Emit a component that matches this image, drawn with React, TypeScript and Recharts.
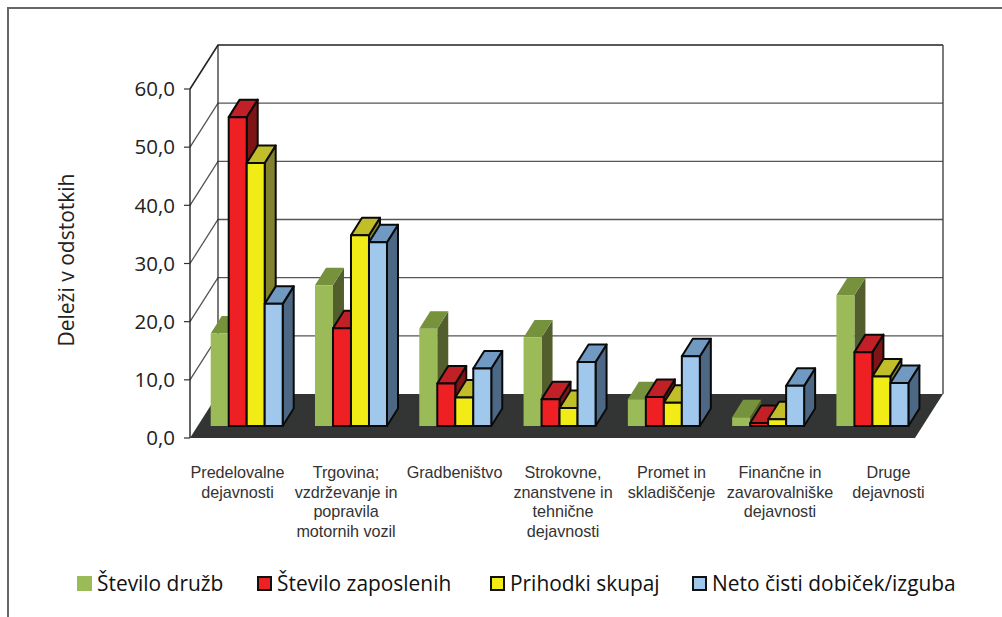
import { BarChart, Bar, XAxis, YAxis, CartesianGrid, Legend } from "recharts";

const categories = [
  "Predelovalne\ndejavnosti",
  "Trgovina;\nvzdrževanje in\npopravila\nmotornih vozil",
  "Gradbeništvo",
  "Strokovne,\nznanstvene in\ntehnične\ndejavnosti",
  "Promet in\nskladiščenje",
  "Finančne in\nzavarovalniške\ndejavnosti",
  "Druge\ndejavnosti",
];
const stevDruzb = [15.9, 24.2, 16.7, 15.2, 4.6, 1.5, 22.5];
const stevZaposlenih = [53.1, 16.8, 7.3, 4.6, 5.0, 0.5, 12.7];
const prihodki = [45.2, 32.8, 4.9, 3.1, 4.0, 1.15, 8.5];
const dobicek = [21.0, 31.6, 9.9, 11.0, 12.0, 6.9, 7.4];
const yTicks = [0, 10, 20, 30, 40, 50, 60];

const data = categories.map((name, i) => ({
  name,
  druzb: stevDruzb[i],
  zaposlenih: stevZaposlenih[i],
  prihodki: prihodki[i],
  dobicek: dobicek[i],
}));

const PLOT_TOP = 89;
const PLOT_H = 349;
const WALL_DX = 28;
const WALL_DY = 44;
const RIGHT_INSET = 5; // plot right edge vs. front edge of floor
const BAR_DX = 4.7; // bars sit deeper than the front plane
const BAR_DY = 12;
const DEPTH_X = 11;
const DEPTH_Y = 17.5;
const LEGEND_X = [77, 257, 490, 692];

function gridLine(props: any) {
  const { x1, x2, y1 } = props;
  const fx2 = x2 - RIGHT_INSET;
  const bx1 = x1 + WALL_DX;
  const bx2 = fx2 + WALL_DX;
  const by = y1 - WALL_DY;
  const isTop = Math.abs(y1 - PLOT_TOP) < 1;
  const isZero = Math.abs(y1 - PLOT_TOP - PLOT_H) < 1;
  if (isZero) {
    return (
      <polygon
        key="floor"
        points={`${x1},${y1} ${bx1},${by} ${bx2},${by} ${fx2},${y1}`}
        fill="#333534"
      />
    );
  }
  return (
    <g key={`line-${y1}`}>
      <polyline
        points={`${x1},${y1} ${bx1},${by} ${bx2},${by}`}
        fill="none"
        stroke={isTop ? "#222" : "#555"}
        strokeWidth={isTop ? 1.6 : 1.3}
      />
      {isTop && (
        <>
          <line x1={bx1} y1={by} x2={bx1} y2={by + PLOT_H} stroke="#222" strokeWidth={1.2} />
          <line x1={bx2} y1={by} x2={bx2} y2={by + PLOT_H} stroke="#444" strokeWidth={1.4} />
        </>
      )}
    </g>
  );
}

function makeBar(front: string, top: string, side: string, outline: string) {
  return function Bar3D(props: any) {
    const { x, y, width, height, index } = props;
    const l = x + BAR_DX;
    const r = l + width;
    const t = y - BAR_DY;
    const b = t + height;
    const line = outline === "none" ? {} : { stroke: outline, strokeWidth: 2, strokeLinejoin: "round" as const };
    return (
      <g key={index}>
        <polygon
          points={`${r},${t} ${r + DEPTH_X},${t - DEPTH_Y} ${r + DEPTH_X},${b - DEPTH_Y} ${r},${b}`}
          fill={side}
          {...line}
        />
        <polygon
          points={`${l},${t} ${l + DEPTH_X},${t - DEPTH_Y} ${r + DEPTH_X},${t - DEPTH_Y} ${r},${t}`}
          fill={top}
          {...line}
        />
        <rect x={l} y={t} width={width} height={height} fill={front} {...line} />
      </g>
    );
  };
}

function CategoryTick(props: any) {
  const { x, y, payload, index } = props;
  const lines = String(payload.value).split("\n");
  // labels are spread a little wider than the bar groups
  const cx = x - 4.6 + index * 4.2;
  return (
    <text
      x={cx}
      y={y}
      textAnchor="middle"
      fontFamily="Liberation Sans"
      fontSize={16.2}
      letterSpacing={-0.05}
      fill="#333"
    >
      {lines.map((l, i) => (
        <tspan key={i} x={cx} y={478 + i * 19.6}>
          {l}
        </tspan>
      ))}
    </text>
  );
}

function LegendRow(props: any) {
  const { payload } = props;
  return (
    <div style={{ position: "relative", height: 0 }}>
      {(payload || []).map((p: any, i: number) => (
        <div
          key={p.value}
          style={{
            position: "absolute",
            left: LEGEND_X[i],
            top: 0,
            whiteSpace: "nowrap",
            fontFamily: "Open Sans",
            fontSize: 20.9,
            lineHeight: "28px",
            color: "#111",
          }}
        >
          <span
            style={{
              position: "absolute",
              left: 0,
              top: 7,
              boxSizing: "border-box",
              width: 15,
              height: 15,
              background: p.color,
              border: i === 0 ? "none" : "2px solid #111",
            }}
          />
          <span style={{ marginLeft: 20 }}>{p.value}</span>
        </div>
      ))}
    </div>
  );
}

export default function App() {
  return (
    <div
      style={{
        position: "absolute",
        left: 0,
        top: 0,
        width: 1002,
        height: 617,
        overflow: "hidden",
        background: "#fff",
      }}
    >
      <div
        style={{
          position: "absolute",
          left: 7,
          top: 7,
          width: 995,
          height: 610,
          borderTop: "2px solid #666",
          borderLeft: "2px solid #666",
        }}
      />
      <BarChart
        width={1002}
        height={617}
        data={data}
        barSize={18}
        barGap={0}
        margin={{ top: PLOT_TOP, right: 82, bottom: 0, left: 0 }}
      >
        <CartesianGrid vertical={false} horizontal={gridLine} />
        <XAxis
          dataKey="name"
          height={179}
          interval={0}
          axisLine={false}
          tickLine={false}
          tick={CategoryTick}
        />
        <YAxis
          width={190}
          domain={[0, 60]}
          ticks={yTicks}
          tickFormatter={(v: number) => v.toFixed(1).replace(".", ",")}
          tick={{ fontFamily: "Open Sans", fontSize: 20.5, fill: "#222" }}
          tickSize={6}
          tickMargin={9}
          axisLine={{ stroke: "#111", strokeWidth: 1.3 }}
          tickLine={{ stroke: "#333", strokeWidth: 1.2 }}
          label={{
            value: "Deleži v odstotkih",
            angle: -90,
            position: "insideLeft",
            dx: 62,
            dy: 83,
            style: { fontFamily: "Open Sans", fontSize: 21, fill: "#222" },
          }}
        />
        <Legend
          content={LegendRow}
          itemSorter={null}
          wrapperStyle={{ position: "absolute", left: 0, top: 569, width: 1002, height: 0 }}
        />
        <Bar
          dataKey="druzb"
          name="Število družb"
          fill="#9BBB59"
          isAnimationActive={false}
          shape={makeBar("#9BBB59", "#76923C", "#525E2B", "none")}
        />
        <Bar
          dataKey="zaposlenih"
          name="Število zaposlenih"
          fill="#EE2024"
          isAnimationActive={false}
          shape={makeBar("#EE2024", "#C12026", "#7F1416", "#0a0a0a")}
        />
        <Bar
          dataKey="prihodki"
          name="Prihodki skupaj"
          fill="#F2EC16"
          isAnimationActive={false}
          shape={makeBar("#F2EC16", "#C2BE2A", "#828130", "#0a0a0a")}
        />
        <Bar
          dataKey="dobicek"
          name="Neto čisti dobiček/izguba"
          fill="#A0C7EC"
          isAnimationActive={false}
          shape={makeBar("#A0C7EC", "#709AC2", "#4C6885", "#0a0a0a")}
        />
      </BarChart>
    </div>
  );
}
